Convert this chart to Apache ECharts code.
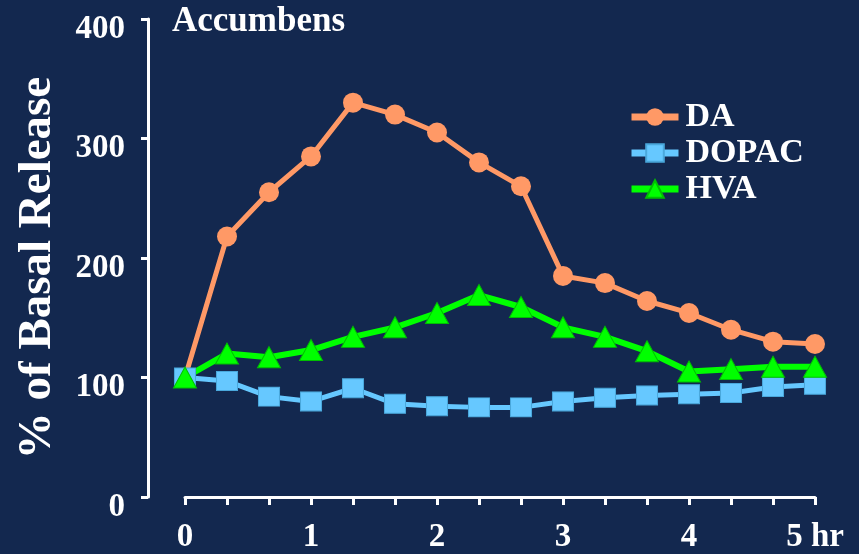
<!DOCTYPE html>
<html>
<head>
<meta charset="utf-8">
<script src="https://cdn.jsdelivr.net/npm/echarts@6/dist/echarts.min.js"></script>
<style>
html,body{margin:0;padding:0;background:#13284f;}
#chart{width:859px;height:554px;}
</style>
</head>
<body>
<div id="chart"></div>
<script>
// time in minutes (0 .. 5 hr, every 20 min)
var timeMin = [0, 20, 40, 60, 80, 100, 120, 140, 160, 180, 200, 220, 240, 260, 280, 300];
var daValues    = [100, 218, 255, 285, 330, 320, 305, 280, 260, 185, 179, 164, 154, 140, 130, 128];
var dopacValues = [100, 97, 84, 80, 91, 78, 76, 75, 75, 80, 83, 85, 86, 87, 92, 94];
var hvaValues   = [100, 120, 117, 123, 134, 142, 154, 169, 159, 142, 134, 122, 105, 107, 109, 109];
var seriesNames = ['DA', 'DOPAC', 'HVA'];
var xTickLabels = {0: '0', 60: '1', 120: '2', 180: '3', 240: '4', 300: '5 hr'};
var chartTitle = 'Accumbens';
var yTitle = '% of Basal Release';

function pairs(vals) {
  return vals.map(function (v, i) { return [timeMin[i], v]; });
}

var FONT = '"Liberation Serif", "Times New Roman", serif';
var chart = echarts.init(document.getElementById('chart'));
chart.setOption({
  backgroundColor: '#13284f',
  animation: false,
  title: {
    text: chartTitle,
    left: 172, top: 4, padding: 0,
    textStyle: {color: '#ffffff', fontFamily: FONT, fontWeight: 'bold', fontSize: 35}
  },
  legend: {
    orient: 'vertical',
    left: 628, top: 99, padding: 0,
    itemWidth: 47, itemHeight: 22, itemGap: 0,
    lineStyle: {width: 7},
    textStyle: {color: '#ffffff', fontFamily: FONT, fontWeight: 'bold', fontSize: 34,
                lineHeight: 22, padding: [14, 0, 0, 2]},
    data: seriesNames
  },
  graphic: [{
    type: 'text',
    x: 38, y: 268,
    rotation: Math.PI / 2,
    style: {
      text: yTitle,
      fill: '#ffffff',
      font: 'bold 47px ' + FONT,
      align: 'center',
      verticalAlign: 'middle'
    }
  }],
  grid: {left: 185, right: 44, top: 19, bottom: 57, containLabel: false},
  xAxis: {
    type: 'value',
    min: 0, max: 300, interval: 20,
    splitLine: {show: false},
    axisLine: {show: true, onZero: false, lineStyle: {color: '#ffffff', width: 3}},
    axisTick: {show: true, length: 8, inside: false, lineStyle: {color: '#ffffff', width: 3}},
    axisLabel: {
      show: true, margin: 24, color: '#ffffff',
      fontFamily: FONT, fontWeight: 'bold', fontSize: 33,
      showMinLabel: true, showMaxLabel: true,
      formatter: function (v) { var k = Math.round(v); return xTickLabels[k] !== undefined ? xTickLabels[k] : ''; }
    }
  },
  yAxis: {
    type: 'value',
    min: 0, max: 400, interval: 100,
    offset: 37,
    splitLine: {show: false},
    axisLine: {show: true, onZero: false, lineStyle: {color: '#ffffff', width: 3}},
    axisTick: {show: true, length: 7, lineStyle: {color: '#ffffff', width: 3}},
    axisLabel: {
      margin: 23, color: '#ffffff',
      formatter: function (v) { return '{a|' + v + '}'; },
      rich: {
        a: {color: '#ffffff', fontFamily: FONT, fontWeight: 'bold', fontSize: 33, padding: [20, 0, 0, 0]}
      }
    }
  },
  series: [
    {
      name: seriesNames[0], type: 'line', data: pairs(daValues),
      symbol: 'circle', symbolSize: 20, color: '#ff9966',
      lineStyle: {width: 5, color: '#ff9966'},
      itemStyle: {color: '#ff9966'}
    },
    {
      name: seriesNames[1], type: 'line', data: pairs(dopacValues),
      symbol: 'rect', symbolSize: [21, 19], color: '#66c8ff',
      lineStyle: {width: 5, color: '#66c8ff'},
      itemStyle: {color: '#66c8ff', borderColor: '#4aa8dc', borderWidth: 1}
    },
    {
      name: seriesNames[2], type: 'line', data: pairs(hvaValues),
      symbol: 'triangle', symbolSize: [23, 21], color: '#00ff00',
      lineStyle: {width: 6, color: '#00ff00'},
      itemStyle: {color: '#00ff00', borderColor: '#00c000', borderWidth: 1}
    }
  ]
});
</script>
</body>
</html>
